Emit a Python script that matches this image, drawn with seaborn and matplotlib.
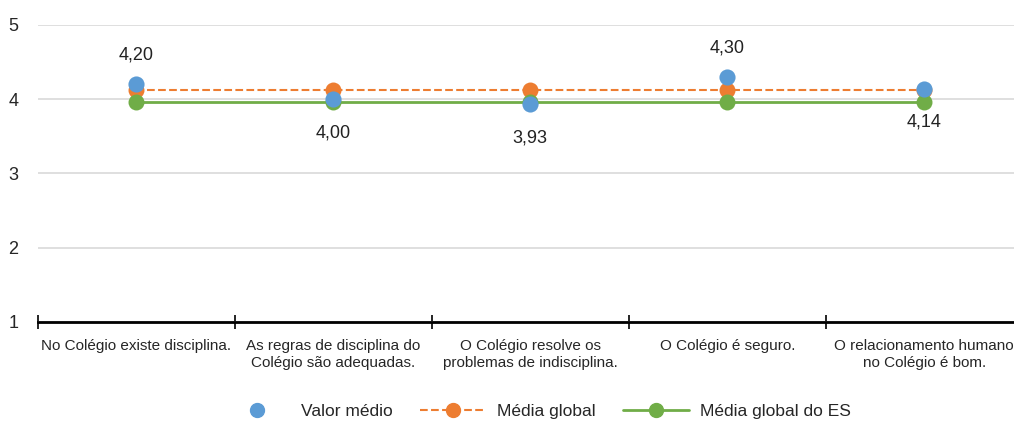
import numpy as np
import pandas as pd
import matplotlib
matplotlib.use("Agg")
import matplotlib.pyplot as plt
from matplotlib.lines import Line2D
import seaborn as sns

# ---- data ----
categorias = ["No Colégio existe disciplina.",
              "As regras de disciplina do\nColégio são adequadas.",
              "O Colégio resolve os\nproblemas de indisciplina.",
              "O Colégio é seguro.",
              "O relacionamento humano\nno Colégio é bom."]
valor_medio = [4.20, 4.00, 3.93, 4.30, 4.14]
media_global = [4.12, 4.12, 4.12, 4.12, 4.12]
media_global_es = [3.96, 3.96, 3.96, 3.96, 3.96]
rotulos = ["4,20", "4,00", "3,93", "4,30", "4,14"]
acima = [True, False, False, True, False]

AZUL = "#5B9BD5"
LARANJA = "#ED7D31"
VERDE = "#70AD47"

sns.set_style("white")
plt.rcParams['font.family'] = ['Liberation Sans', 'DejaVu Sans']

df = pd.DataFrame({"cat": categorias, "valor": valor_medio,
                   "global": media_global, "es": media_global_es})
df["x"] = np.arange(len(df))

fig = plt.figure(figsize=(10.14, 4.24), dpi=100)
ax = fig.add_axes([0.0375, 0.2406, 0.971, 0.7005])

sns.lineplot(data=df, x="x", y="global", ax=ax, color=LARANJA, linestyle="--",
             linewidth=1.5, marker="o", markersize=11.5, markeredgewidth=0, zorder=3)
sns.lineplot(data=df, x="x", y="es", ax=ax, color=VERDE, linewidth=2,
             marker="o", markersize=11.5, markeredgewidth=0, zorder=4)
sns.scatterplot(data=df, x="x", y="valor", ax=ax, color=AZUL, s=135,
                linewidth=0, zorder=5)

# rótulos de dados
for i, (v, t, up) in enumerate(zip(valor_medio, rotulos, acima)):
    dy = 0.39 if up else -0.45
    ax.text(i, v + dy, t, ha="center", va="center", fontsize=13, color="#222222")

ax.set_xlim(-0.5, len(categorias) - 0.5)
ax.set_ylim(1, 5)
ax.set_yticks([1, 2, 3, 4, 5])
ax.set_yticklabels(["1", "2", "3", "4", "5"], fontsize=13)
ax.yaxis.grid(True, color="#D9D9D9", linewidth=1.2)
ax.set_axisbelow(True)
ax.tick_params(axis="y", length=0, pad=14)

ax.set_xticks(df["x"])
ax.set_xticklabels(categorias, fontsize=11, linespacing=1.25)
ax.tick_params(axis="x", which="major", bottom=False, pad=9)
ax.set_xticks(np.arange(-0.5, len(categorias), 1.0), minor=True)
ax.tick_params(axis="x", which="minor", bottom=True, direction="inout",
               length=10, width=1.2, color="black")
ax.set_xlabel("")
ax.set_ylabel("")

for s in ["top", "right", "left"]:
    ax.spines[s].set_visible(False)
ax.spines["bottom"].set_color("black")
ax.spines["bottom"].set_linewidth(2)

handles = [
    Line2D([], [], color=AZUL, marker="o", linestyle="none", markersize=10),
    Line2D([], [], color=LARANJA, marker="o", linestyle="--", linewidth=1.5, markersize=10),
    Line2D([], [], color=VERDE, marker="o", linestyle="-", linewidth=2, markersize=10),
]
fig.legend(handles, ["Valor médio", "Média global", "Média global do ES"],
           loc="lower center", bbox_to_anchor=(0.53, -0.025), ncol=3, frameon=False,
           fontsize=12.5, handlelength=3.8, columnspacing=1.6, handletextpad=0.6)

fig.savefig("out.png", dpi=100)
